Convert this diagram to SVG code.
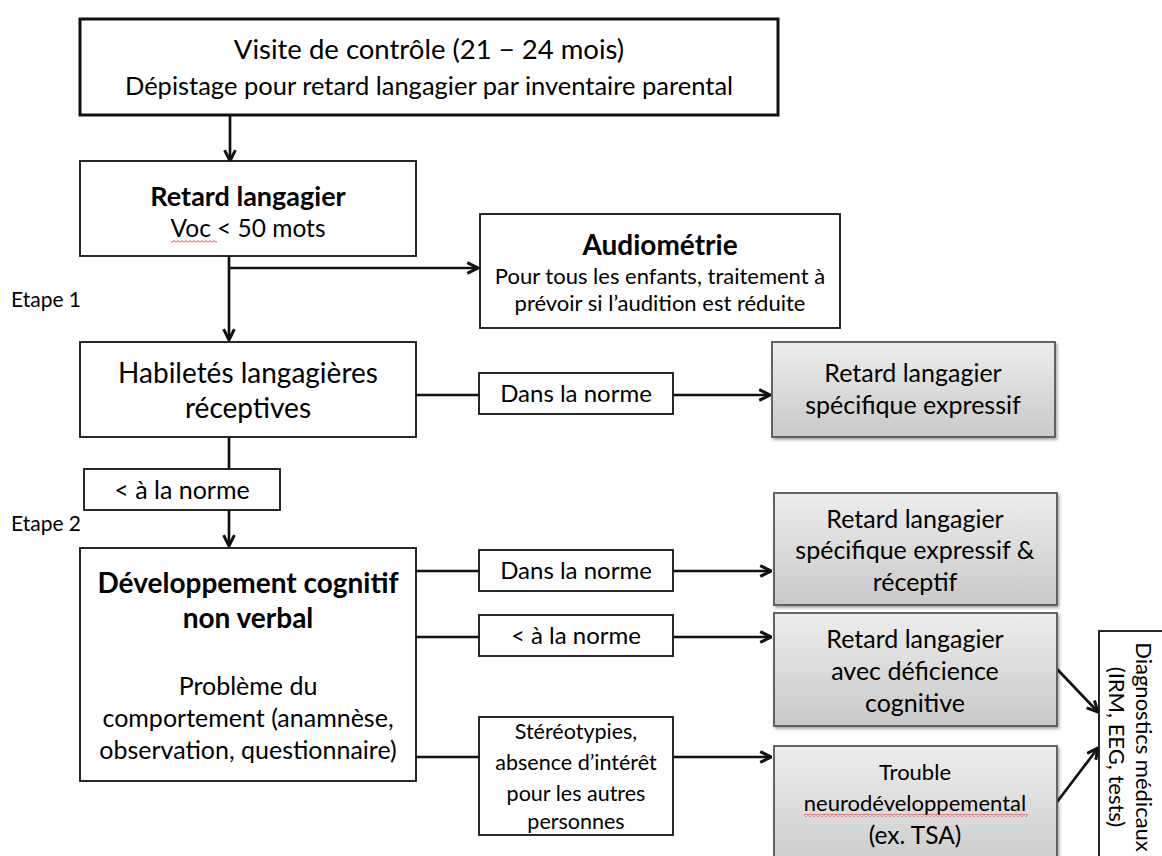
<svg xmlns="http://www.w3.org/2000/svg" width="1162" height="856" viewBox="0 0 1162 856">
<style>
text{font-family:Lato,"Open Sans","Liberation Sans",sans-serif;fill:#000;text-anchor:middle}
.box{fill:#fff;stroke:#111;stroke-width:1.8}
.gbox{fill:url(#gg);stroke:#555;stroke-width:1.8;filter:url(#sh)}
.conn{fill:none;stroke:#111;stroke-width:2.7}
.b{font-weight:bold}
.sq{fill:url(#wave);stroke:none}
</style>
<defs>
<linearGradient id="gg" x1="0" y1="0" x2="0" y2="1">
<stop offset="0" stop-color="#ededed"/>
<stop offset="1" stop-color="#c9c9c9"/>
</linearGradient>
<pattern id="wave" x="0" y="0" width="4" height="3" patternUnits="userSpaceOnUse">
<path d="M0,2.5 L2,0.5 L4,2.5" fill="none" stroke="#e0302a" stroke-width="1"/>
</pattern>
<filter id="sh" x="-10%" y="-10%" width="125%" height="130%">
<feDropShadow dx="1.5" dy="2" stdDeviation="1.5" flood-color="#000" flood-opacity="0.35"/>
</filter>
<filter id="dsh" x="-1%" y="-100%" width="102%" height="300%">
<feDropShadow dx="0" dy="1.5" stdDeviation="1.2" flood-color="#000" flood-opacity="0.4"/>
</filter>
<marker id="ah" viewBox="0 0 10 10" refX="9" refY="5" markerWidth="5" markerHeight="5" orient="auto" markerUnits="strokeWidth">
<path d="M1,1 L9,5 L1,9" fill="none" stroke="#111" stroke-width="2.2"/>
</marker>
</defs>

<g id="connectors">
<path class="conn" d="M230,116 V161" marker-end="url(#ah)"/>
<path class="conn" d="M229,256 V340" marker-end="url(#ah)"/>
<path class="conn" d="M229,268 H478" marker-end="url(#ah)"/>
<path class="conn" d="M416,395 H479 M673,395 H770" marker-end="url(#ah)"/>
<path class="conn" d="M229,437 V469"/>
<path class="conn" d="M229,510 V546" marker-end="url(#ah)"/>
<path class="conn" d="M416,571 H479 M673,571 H771" marker-end="url(#ah)"/>
<path class="conn" d="M416,637 H479 M673,637 H771" marker-end="url(#ah)"/>
<path class="conn" d="M416,757 H479 M673,757 H771" marker-end="url(#ah)"/>
<path class="conn" d="M1057,669 L1098,712" marker-end="url(#ah)"/>
<path class="conn" d="M1057,802 L1098,748" marker-end="url(#ah)"/>
</g>

<g id="separator">
<line x1="80" y1="455" x2="1162" y2="455" stroke="#333" stroke-width="3.5" stroke-dasharray="9 3.5" filter="url(#dsh)"/>
</g>

<g id="n-visite">
<rect x="80" y="19" width="698" height="96" fill="#fff" stroke="#111" stroke-width="3"/>
<text x="429" y="59" font-size="27.5">Visite de contrôle (21 − 24 mois)</text>
<text x="429" y="95" font-size="25.5">Dépistage pour retard langagier par inventaire parental</text>
</g>

<g id="n-retard">
<rect class="box" x="80" y="161" width="336" height="95"/>
<text class="b" x="248" y="206" font-size="27">Retard langagier</text>
<text x="248" y="237" font-size="24.5">Voc &lt; 50 mots</text>
<rect class="sq" x="171" y="240" width="46" height="3"/>
</g>

<g id="n-etape1">
<text x="11" y="307" font-size="21" style="text-anchor:start">Etape 1</text>
</g>

<g id="n-audio">
<rect class="box" x="480" y="214" width="360" height="114"/>
<text class="b" x="660" y="255" font-size="28">Audiométrie</text>
<text x="660" y="284" font-size="22">Pour tous les enfants, traitement à</text>
<text x="660" y="311" font-size="22">prévoir si l’audition est réduite</text>
</g>

<g id="n-habiletes">
<rect class="box" x="80" y="342" width="336" height="95"/>
<text x="248" y="383" font-size="28">Habiletés langagières</text>
<text x="248" y="418" font-size="28">réceptives</text>
</g>

<g id="n-dans1">
<rect class="box" x="479" y="373" width="194" height="41"/>
<text x="576" y="402" font-size="24">Dans la norme</text>
</g>

<g id="n-specexp">
<rect class="gbox" x="772" y="342" width="283" height="95"/>
<text x="913" y="382" font-size="25">Retard langagier</text>
<text x="913" y="414" font-size="25">spécifique expressif</text>
</g>

<g id="n-inf1">
<rect class="box" x="84" y="469" width="196" height="41"/>
<text x="182" y="499" font-size="25">&lt; à la norme</text>
</g>

<g id="n-etape2">
<text x="11" y="531" font-size="21" style="text-anchor:start">Etape 2</text>
</g>

<g id="n-devcog">
<rect class="box" x="80" y="548" width="336" height="233"/>
<text class="b" x="248" y="593" font-size="28">Développement cognitif</text>
<text class="b" x="248" y="628" font-size="28">non verbal</text>
<text x="248" y="695" font-size="25">Problème du</text>
<text x="248" y="727" font-size="25">comportement (anamnèse,</text>
<text x="248" y="759" font-size="25">observation, questionnaire)</text>
</g>

<g id="n-dans2">
<rect class="box" x="479" y="550" width="194" height="41"/>
<text x="576" y="579" font-size="24">Dans la norme</text>
</g>

<g id="n-inf2">
<rect class="box" x="479" y="615" width="194" height="41"/>
<text x="576" y="644" font-size="24">&lt; à la norme</text>
</g>

<g id="n-stereo">
<rect class="box" x="479" y="717" width="194" height="118"/>
<text x="576" y="739" font-size="21.5">Stéréotypies,</text>
<text x="576" y="770" font-size="21.5">absence d’intérêt</text>
<text x="576" y="801" font-size="21.5">pour les autres</text>
<text x="576" y="829" font-size="21.5">personnes</text>
</g>

<g id="n-specexprec">
<rect class="gbox" x="774" y="493" width="283" height="112"/>
<text x="915" y="528" font-size="25">Retard langagier</text>
<text x="915" y="559" font-size="25">spécifique expressif &amp;</text>
<text x="915" y="591" font-size="25">réceptif</text>
</g>

<g id="n-deficience">
<rect class="gbox" x="774" y="613" width="283" height="113"/>
<text x="915" y="648" font-size="25">Retard langagier</text>
<text x="915" y="680" font-size="25">avec déficience</text>
<text x="915" y="712" font-size="25">cognitive</text>
</g>

<g id="n-tnd">
<rect class="gbox" x="774" y="746" width="283" height="130"/>
<text x="915" y="780" font-size="22">Trouble</text>
<text x="915" y="811" font-size="22">neurodéveloppemental</text>
<text x="915" y="844" font-size="24.5">(ex. TSA)</text>
<rect class="sq" x="804" y="814" width="224" height="3"/>
</g>

<g id="n-diag">
<rect class="box" x="1099" y="631" width="90" height="250"/>
<g transform="translate(1162,747) rotate(90)">
<text x="0" y="26" font-size="22">Diagnostics médicaux</text>
<text x="0" y="53" font-size="22">(IRM, EEG, tests)</text>
</g>
</g>
</svg>
